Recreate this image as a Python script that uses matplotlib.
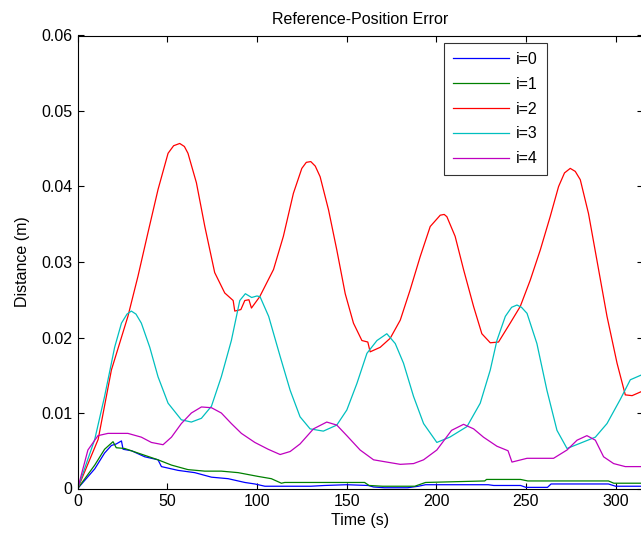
import matplotlib
matplotlib.use("Agg")
import matplotlib.pyplot as plt

plt.rcParams['font.family'] = ['Liberation Sans', 'DejaVu Sans']

title = "Reference-Position Error"
xlabel = "Time (s)"
ylabel = "Distance (m)"
labels = ["i=0", "i=1", "i=2", "i=3", "i=4"]
colors = ["#0000ff", "#008000", "#ff0000", "#00bfbf", "#bf00bf"]

t0 = [0, 9.5, 15, 18.8, 21.5, 24.4, 25.3, 30, 37.4, 44.8, 46.7, 56, 65.3, 74.6, 83.9, 93.2, 98.8,
      104.4, 119.2, 130, 137.7, 150, 162, 165, 171, 184, 190, 194, 229, 232, 247, 250, 262, 264,
      296, 300, 315]
v0 = [0, 0.0026, 0.0047, 0.0057, 0.0059, 0.0063, 0.0052, 0.005, 0.0042, 0.0038, 0.0029, 0.0024,
      0.0021, 0.0015, 0.0013, 0.0008, 0.0006, 0.0003, 0.0003, 0.0003, 0.0004, 0.0005, 0.0004,
      0.0002, 0.0001, 0.0001, 0.0003, 0.0005, 0.0005, 0.0004, 0.0004, 0.00015, 0.00015, 0.0006,
      0.0006, 0.0003, 0.0003]

t1 = [0, 9.5, 15, 19.7, 21.5, 26.2, 33.6, 44.8, 52.3, 61.5, 70.9, 80.1, 89.5, 100.6, 108, 113.6,
      115.5, 130, 148.8, 160, 162.5, 170, 188, 194, 227, 228, 247, 251, 296, 299, 315]
v1 = [0, 0.0031, 0.0052, 0.0062, 0.0054, 0.0053, 0.0047, 0.0038, 0.0031, 0.0025, 0.0023, 0.0023,
      0.0021, 0.0016, 0.0013, 0.0007, 0.0008, 0.0008, 0.0008, 0.0008, 0.0004, 0.0003, 0.0003,
      0.0008, 0.001, 0.0012, 0.0012, 0.001, 0.001, 0.0007, 0.0007]

t2 = [0, 11.4, 18.8, 28, 33.6, 39.2, 44.8, 50.4, 53.5, 56.9, 59.5, 61.5, 66.2, 70.9, 76.4, 82, 86.7,
      87.6, 91, 93.2, 95.5, 96.9, 101.5, 106.2, 109.2, 114.7, 120.3, 125, 127.5, 130, 132.5, 135.2,
      139.9, 144.5, 149.2, 153.8, 158.5, 161.8, 163.1, 168.7, 174.3, 179.9, 185.4, 191, 196.6,
      202.2, 204.4, 205.9, 210.5, 215.2, 220.8, 225.4, 230.1, 234.7, 241.2, 246.8, 252.4, 258,
      263.5, 268.2, 271.5, 274.7, 277.5, 280.3, 284.9, 289.6, 295.2, 300.8, 305.4, 309.2, 315]
v2 = [0, 0.0065, 0.0157, 0.0228, 0.0281, 0.0339, 0.0396, 0.0444, 0.0454, 0.0457, 0.0453, 0.0444,
      0.0405, 0.0347, 0.0286, 0.0259, 0.0249, 0.0235, 0.0237, 0.0249, 0.025, 0.0239, 0.0254,
      0.0276, 0.029, 0.0334, 0.0391, 0.0424, 0.0432, 0.0433, 0.0427, 0.0413, 0.0369, 0.0316,
      0.0258, 0.0219, 0.0196, 0.0194, 0.0181, 0.0187, 0.0199, 0.0223, 0.0263, 0.0307, 0.0347,
      0.0362, 0.0363, 0.036, 0.0334, 0.029, 0.0241, 0.0205, 0.0193, 0.0194, 0.0219, 0.0241,
      0.0276, 0.0316, 0.036, 0.04, 0.0418, 0.0424, 0.0420, 0.0409, 0.0364, 0.0302, 0.0228,
      0.0166, 0.0124, 0.0123, 0.0129]

t3 = [0, 9.5, 15, 20.6, 24.4, 27.5, 29.9, 32.5, 35.5, 40.2, 44.8, 50.4, 57.8, 63.4, 69, 74.6, 80.1,
      85.7, 90.4, 93.5, 97, 100, 101.7, 106.5, 112.9, 118.5, 124, 129.6, 137, 144.5, 150.1, 155.7,
      161.3, 166.9, 172.4, 177.1, 181.7, 187.3, 192.9, 200.3, 207.5, 217.1, 224.5, 230.1, 233.8,
      238.5, 242, 245, 247.5, 250.6, 256.1, 261.7, 267.3, 272.9, 280.3, 288.7, 295.2, 302.6,
      308.2, 315]
v3 = [0, 0.0065, 0.0122, 0.0187, 0.0219, 0.0231, 0.0235, 0.0231, 0.0219, 0.0187, 0.0148, 0.0113,
      0.0091, 0.0088, 0.0093, 0.0109, 0.0148, 0.0196, 0.0249, 0.0258, 0.0253, 0.0255, 0.0254,
      0.0228, 0.0175, 0.013, 0.0095, 0.0079, 0.0076, 0.0084, 0.0104, 0.0139, 0.0179, 0.0196,
      0.0205, 0.0192, 0.0166, 0.0122, 0.0086, 0.0061, 0.0068, 0.0082, 0.0113, 0.0157, 0.0196,
      0.0228, 0.0240, 0.0243, 0.0240, 0.0232, 0.0192, 0.013, 0.0077, 0.0053, 0.006, 0.0068,
      0.0086, 0.0118, 0.0144, 0.0151]

t4 = [0, 5.7, 11.3, 16.9, 28, 35.5, 41.1, 47.6, 52.3, 57.8, 63.4, 69, 74.6, 80.1, 85.7, 91.3, 98.8,
      106.2, 112.9, 118.5, 124, 131.5, 138.9, 144.5, 150.1, 157.5, 165, 172.4, 179.9, 187.3,
      192.9, 200.3, 208.5, 215.2, 220.8, 226.3, 233.8, 240, 242.2, 250.6, 258, 265.4, 272.9,
      278.5, 284, 288.7, 293.3, 298.9, 305.4, 315]
v4 = [0, 0.0051, 0.007, 0.0073, 0.0073, 0.0068, 0.0061, 0.0058, 0.0068, 0.0086, 0.01, 0.0108,
      0.0107, 0.01, 0.0086, 0.0073, 0.0061, 0.0052, 0.0045, 0.0049, 0.0059, 0.0079, 0.0088,
      0.0084, 0.007, 0.0051, 0.0038, 0.0035, 0.0032, 0.0033, 0.0038, 0.0051, 0.0077, 0.0085,
      0.0079, 0.0068, 0.0056, 0.005, 0.0035, 0.004, 0.004, 0.004, 0.0051, 0.0064, 0.007, 0.0064,
      0.0042, 0.0033, 0.0029, 0.0029]

xticks = [0, 50, 100, 150, 200, 250, 300]
yticks = [0, 0.01, 0.02, 0.03, 0.04, 0.05, 0.06]
yticklabels = ["0", "0.01", "0.02", "0.03", "0.04", "0.05", "0.06"]

fig = plt.figure(figsize=(6.41, 5.38), dpi=100)
W, H = 641, 538
left, right, top, bottom = 77.7, 642.5, 35.5, 488.5
ax = fig.add_axes([left / W, (H - bottom) / H, (right - left) / W, (bottom - top) / H])

series_t = [t0, t1, t2, t3, t4]
series_v = [v0, v1, v2, v3, v4]
for tt, vv, c, lab in zip(series_t, series_v, colors, labels):
    ax.plot(tt, vv, color=c, lw=0.9, label=lab)

ax.set_xlim(0, 315)
ax.set_ylim(0, 0.06)
ax.set_xticks(xticks)
ax.set_xticklabels([str(x) for x in xticks])
ax.set_yticks(yticks)
ax.set_yticklabels(yticklabels)
ax.tick_params(direction='in', top=True, right=True, length=4.5, width=0.8,
               labelsize=11.5, pad=4, colors='black')
for s in ax.spines.values():
    s.set_linewidth(0.8)

ax.set_title(title, fontsize=11.5, pad=8)
ax.set_xlabel(xlabel, fontsize=11.5, labelpad=3)
ax.set_ylabel(ylabel, fontsize=11.5, labelpad=8)

leg = ax.legend(loc='upper right', bbox_to_anchor=((547 - left) / (right - left), (bottom - 43) / (bottom - top)),
                borderaxespad=0, fontsize=11.5, frameon=True, fancybox=False, edgecolor='black',
                handlelength=3.5, handletextpad=0.45, labelspacing=0.62, borderpad=0.55)
leg.get_frame().set_linewidth(0.8)

fig.savefig("out.png", dpi=100)
